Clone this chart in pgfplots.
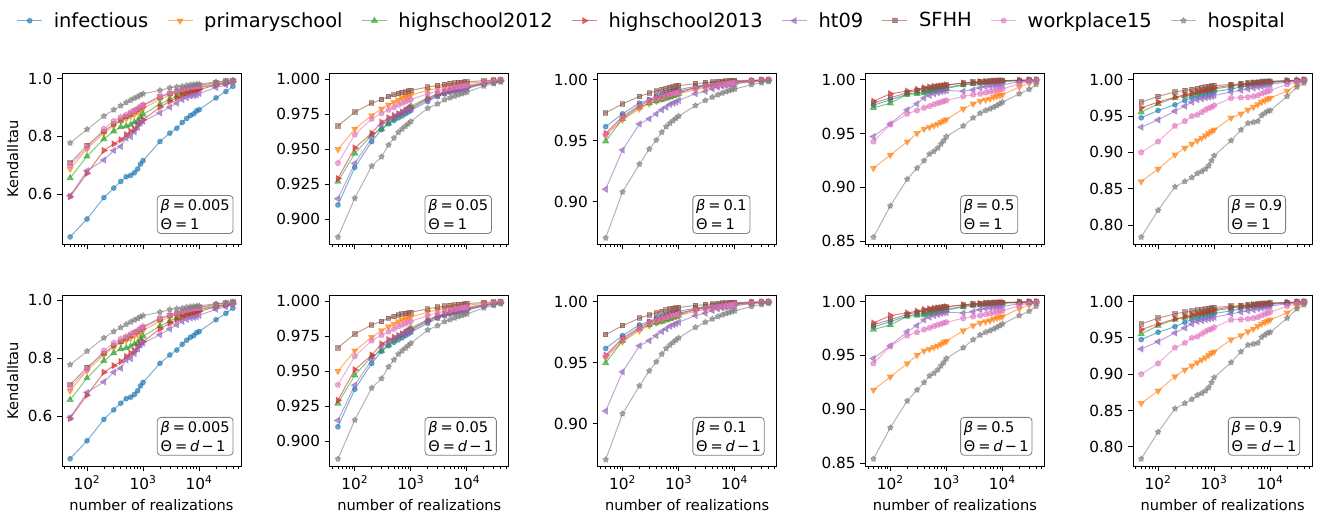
\documentclass[border=0pt]{standalone}
\usepackage{pgfplots}
\pgfplotsset{compat=1.18}
\usepackage{pgfplotstable}
\usepgfplotslibrary{groupplots}
\usepackage{fontspec}
\setmainfont{DejaVu Sans}
\definecolor{tBlue}{HTML}{1F77B4}
\definecolor{tOrange}{HTML}{FF7F0E}
\definecolor{tGreen}{HTML}{2CA02C}
\definecolor{tRed}{HTML}{D62728}
\definecolor{tPurple}{HTML}{9467BD}
\definecolor{tBrown}{HTML}{8C564B}
\definecolor{tPink}{HTML}{E377C2}
\definecolor{tGray}{HTML}{7F7F7F}

\pgfdeclareplotmark{fstar}{%
  \pgfpathmoveto{\pgfpointpolar{90}{1.25\pgfplotmarksize}}%
  \pgfpathlineto{\pgfpointpolar{126}{0.8\pgfplotmarksize}}%
  \pgfpathlineto{\pgfpointpolar{162}{1.25\pgfplotmarksize}}%
  \pgfpathlineto{\pgfpointpolar{198}{0.8\pgfplotmarksize}}%
  \pgfpathlineto{\pgfpointpolar{234}{1.25\pgfplotmarksize}}%
  \pgfpathlineto{\pgfpointpolar{270}{0.8\pgfplotmarksize}}%
  \pgfpathlineto{\pgfpointpolar{306}{1.25\pgfplotmarksize}}%
  \pgfpathlineto{\pgfpointpolar{342}{0.8\pgfplotmarksize}}%
  \pgfpathlineto{\pgfpointpolar{18}{1.25\pgfplotmarksize}}%
  \pgfpathlineto{\pgfpointpolar{54}{0.8\pgfplotmarksize}}%
  \pgfpathclose\pgfusepathqfillstroke}

\pgfplotstableread{
x inf pri h12 h13 ht sf wp ho
50 0.452 0.687 0.656 0.591 0.595 0.708 0.700 0.777
100 0.514 0.757 0.731 0.672 0.681 0.768 0.760 0.824
200 0.588 0.811 0.791 0.751 0.718 0.817 0.826 0.870
300 0.621 0.837 0.818 0.774 0.751 0.843 0.853 0.892
400 0.644 0.853 0.832 0.788 0.765 0.857 0.867 0.906
500 0.660 0.861 0.835 0.806 0.794 0.869 0.875 0.917
600 0.665 0.869 0.840 0.817 0.799 0.878 0.884 0.925
700 0.674 0.876 0.849 0.823 0.816 0.888 0.890 0.932
800 0.687 0.883 0.853 0.838 0.832 0.893 0.896 0.937
900 0.704 0.890 0.867 0.849 0.846 0.899 0.904 0.943
1000 0.716 0.896 0.876 0.857 0.852 0.906 0.910 0.947
2000 0.782 0.928 0.911 0.901 0.881 0.936 0.939 0.959
3000 0.811 0.942 0.928 0.921 0.901 0.948 0.950 0.968
4000 0.828 0.950 0.940 0.933 0.915 0.955 0.957 0.971
5000 0.848 0.955 0.948 0.942 0.927 0.961 0.962 0.973
6000 0.862 0.959 0.954 0.948 0.934 0.965 0.966 0.976
7000 0.872 0.963 0.958 0.952 0.939 0.969 0.969 0.978
8000 0.878 0.965 0.962 0.956 0.941 0.971 0.971 0.979
9000 0.888 0.968 0.965 0.959 0.943 0.973 0.973 0.980
10000 0.892 0.970 0.968 0.962 0.948 0.976 0.974 0.981
20000 0.933 0.980 0.980 0.977 0.969 0.986 0.985 0.988
30000 0.955 0.986 0.986 0.984 0.978 0.991 0.990 0.991
40000 0.973 0.991 0.991 0.990 0.985 0.994 0.992 0.994
}\tA
\pgfplotstableread{
x inf pri h12 h13 ht sf wp ho
50 0.9103 0.9500 0.9270 0.9292 0.9148 0.9667 0.9402 0.8873
100 0.9371 0.9646 0.9471 0.9510 0.9400 0.9766 0.9605 0.9151
200 0.9555 0.9742 0.9603 0.9615 0.9581 0.9830 0.9718 0.9380
300 0.9641 0.9790 0.9646 0.9694 0.9670 0.9856 0.9758 0.9447
400 0.9682 0.9818 0.9687 0.9725 0.9706 0.9878 0.9782 0.9531
500 0.9706 0.9837 0.9718 0.9742 0.9730 0.9890 0.9801 0.9581
600 0.9725 0.9854 0.9742 0.9754 0.9749 0.9900 0.9818 0.9622
700 0.9739 0.9866 0.9758 0.9766 0.9763 0.9907 0.9830 0.9646
800 0.9754 0.9873 0.9778 0.9778 0.9773 0.9911 0.9840 0.9665
900 0.9766 0.9880 0.9792 0.9787 0.9782 0.9916 0.9849 0.9682
1000 0.9778 0.9888 0.9809 0.9797 0.9789 0.9921 0.9856 0.9699
2000 0.9842 0.9921 0.9868 0.9861 0.9854 0.9945 0.9897 0.9794
3000 0.9878 0.9938 0.9897 0.9890 0.9885 0.9957 0.9916 0.9825
4000 0.9897 0.9947 0.9911 0.9907 0.9902 0.9964 0.9928 0.9854
5000 0.9909 0.9955 0.9921 0.9919 0.9914 0.9969 0.9935 0.9868
6000 0.9916 0.9959 0.9928 0.9926 0.9921 0.9974 0.9943 0.9880
7000 0.9923 0.9964 0.9935 0.9933 0.9928 0.9976 0.9947 0.9890
8000 0.9928 0.9966 0.9940 0.9938 0.9933 0.9978 0.9952 0.9897
9000 0.9933 0.9969 0.9945 0.9943 0.9938 0.9980 0.9955 0.9904
10000 0.9935 0.9971 0.9950 0.9945 0.9940 0.9983 0.9957 0.9909
20000 0.9967 0.9983 0.9974 0.9971 0.9969 0.9990 0.9976 0.9952
30000 0.9978 0.9990 0.9986 0.9983 0.9981 0.9995 0.9986 0.9969
40000 0.9988 0.9995 0.9993 0.9990 0.9990 0.9997 0.9993 0.9981
}\tB
\pgfplotstableread{
x inf pri h12 h13 ht sf wp ho
50 0.9615 0.9541 0.9495 0.9560 0.9102 0.9728 0.9550 0.8703
100 0.9720 0.9670 0.9679 0.9698 0.9423 0.9802 0.9687 0.9080
200 0.9808 0.9761 0.9775 0.9788 0.9637 0.9863 0.9780 0.9308
300 0.9835 0.9802 0.9808 0.9830 0.9679 0.9890 0.9824 0.9431
400 0.9865 0.9824 0.9824 0.9852 0.9720 0.9907 0.9843 0.9505
500 0.9879 0.9841 0.9835 0.9865 0.9753 0.9920 0.9857 0.9569
600 0.9893 0.9854 0.9846 0.9876 0.9775 0.9929 0.9868 0.9615
700 0.9901 0.9863 0.9857 0.9887 0.9797 0.9937 0.9879 0.9643
800 0.9907 0.9871 0.9868 0.9893 0.9808 0.9942 0.9885 0.9665
900 0.9912 0.9879 0.9876 0.9898 0.9816 0.9948 0.9890 0.9684
1000 0.9918 0.9885 0.9885 0.9904 0.9830 0.9951 0.9896 0.9701
2000 0.9945 0.9918 0.9940 0.9934 0.9885 0.9967 0.9929 0.9788
3000 0.9959 0.9934 0.9953 0.9951 0.9904 0.9975 0.9945 0.9830
4000 0.9967 0.9945 0.9959 0.9959 0.9926 0.9981 0.9953 0.9857
5000 0.9973 0.9951 0.9964 0.9964 0.9940 0.9984 0.9959 0.9876
6000 0.9975 0.9956 0.9968 0.9970 0.9948 0.9986 0.9964 0.9890
7000 0.9978 0.9962 0.9971 0.9973 0.9953 0.9989 0.9967 0.9901
8000 0.9981 0.9964 0.9974 0.9975 0.9959 0.9989 0.9970 0.9909
9000 0.9981 0.9967 0.9976 0.9978 0.9962 0.9992 0.9973 0.9918
10000 0.9984 0.9970 0.9978 0.9981 0.9964 0.9992 0.9975 0.9923
20000 0.9992 0.9984 0.9989 0.9989 0.9984 0.9995 0.9986 0.9959
30000 0.9995 0.9992 0.9995 0.9995 0.9989 0.9997 0.9992 0.9975
40000 0.9997 0.9995 0.9997 0.9997 0.9995 0.9997 0.9995 0.9986
}\tC
\pgfplotstableread{
x inf pri h12 h13 ht sf wp ho
50 0.9763 0.9178 0.9739 0.9800 0.9471 0.9782 0.9424 0.8537
100 0.9813 0.9300 0.9782 0.9869 0.9589 0.9832 0.9583 0.8827
200 0.9865 0.9424 0.9863 0.9894 0.9720 0.9879 0.9683 0.9076
300 0.9880 0.9502 0.9869 0.9910 0.9776 0.9900 0.9714 0.9178
400 0.9890 0.9542 0.9876 0.9925 0.9829 0.9913 0.9739 0.9247
500 0.9900 0.9558 0.9885 0.9932 0.9854 0.9925 0.9754 0.9309
600 0.9905 0.9574 0.9894 0.9938 0.9869 0.9932 0.9770 0.9334
700 0.9910 0.9589 0.9900 0.9941 0.9879 0.9938 0.9782 0.9365
800 0.9915 0.9605 0.9907 0.9944 0.9888 0.9941 0.9791 0.9402
900 0.9920 0.9620 0.9913 0.9947 0.9894 0.9947 0.9801 0.9434
1000 0.9925 0.9630 0.9919 0.9950 0.9900 0.9950 0.9807 0.9471
2000 0.9955 0.9729 0.9950 0.9969 0.9893 0.9969 0.9844 0.9570
3000 0.9966 0.9776 0.9963 0.9975 0.9905 0.9978 0.9860 0.9645
4000 0.9972 0.9801 0.9969 0.9981 0.9925 0.9981 0.9869 0.9689
5000 0.9976 0.9813 0.9974 0.9984 0.9935 0.9984 0.9879 0.9714
6000 0.9979 0.9823 0.9977 0.9984 0.9941 0.9986 0.9888 0.9729
7000 0.9981 0.9838 0.9979 0.9988 0.9944 0.9988 0.9894 0.9745
8000 0.9983 0.9847 0.9981 0.9988 0.9947 0.9989 0.9900 0.9760
9000 0.9985 0.9854 0.9983 0.9991 0.9950 0.9990 0.9907 0.9776
10000 0.9986 0.9860 0.9984 0.9991 0.9953 0.9991 0.9913 0.9791
20000 0.9992 0.9932 0.9990 0.9994 0.9980 0.9994 0.9963 0.9869
30000 0.9995 0.9969 0.9994 0.9997 0.9988 0.9997 0.9981 0.9910
40000 0.9997 0.9988 0.9997 0.9997 0.9994 0.9997 0.9991 0.9956
}\tD
\pgfplotstableread{
x inf pri h12 h13 ht sf wp ho
50 0.9475 0.8599 0.9553 0.9613 0.9346 0.9691 0.9000 0.7834
100 0.9576 0.8770 0.9668 0.9691 0.9447 0.9770 0.9147 0.8203
200 0.9654 0.8968 0.9751 0.9760 0.9567 0.9830 0.9364 0.8525
300 0.9714 0.9060 0.9779 0.9793 0.9636 0.9853 0.9429 0.8599
400 0.9751 0.9115 0.9797 0.9816 0.9691 0.9866 0.9498 0.8654
500 0.9770 0.9161 0.9816 0.9834 0.9724 0.9880 0.9516 0.8710
600 0.9788 0.9198 0.9829 0.9848 0.9737 0.9889 0.9553 0.8737
700 0.9802 0.9230 0.9843 0.9862 0.9751 0.9899 0.9585 0.8770
800 0.9816 0.9263 0.9853 0.9871 0.9760 0.9903 0.9608 0.8816
900 0.9825 0.9290 0.9862 0.9880 0.9770 0.9912 0.9622 0.8885
1000 0.9834 0.9309 0.9871 0.9889 0.9783 0.9917 0.9645 0.8954
2000 0.9871 0.9475 0.9908 0.9922 0.9830 0.9935 0.9747 0.9161
3000 0.9899 0.9530 0.9926 0.9935 0.9853 0.9945 0.9751 0.9309
4000 0.9917 0.9585 0.9940 0.9945 0.9871 0.9954 0.9760 0.9401
5000 0.9931 0.9622 0.9949 0.9954 0.9885 0.9959 0.9770 0.9415
6000 0.9940 0.9659 0.9954 0.9959 0.9899 0.9963 0.9783 0.9429
7000 0.9945 0.9691 0.9959 0.9963 0.9908 0.9968 0.9806 0.9507
8000 0.9949 0.9714 0.9963 0.9968 0.9917 0.9972 0.9825 0.9539
9000 0.9954 0.9733 0.9965 0.9968 0.9926 0.9972 0.9839 0.9567
10000 0.9959 0.9747 0.9972 0.9972 0.9935 0.9977 0.9853 0.9576
20000 0.9977 0.9843 0.9982 0.9986 0.9968 0.9986 0.9935 0.9770
30000 0.9986 0.9931 0.9991 0.9991 0.9982 0.9991 0.9968 0.9899
40000 0.9991 0.9982 0.9995 0.9995 0.9991 0.9995 0.9982 0.9954
}\tE

\pgfplotsset{
  ser/.style={line width=0.7pt, opacity=0.6, solid},
  s1/.style={ser, color=tBlue, mark=*, mark size=1.7pt},
  s2/.style={ser, color=tOrange, mark=triangle*, mark size=2.4pt, mark options={rotate=180}},
  s3/.style={ser, color=tGreen, mark=triangle*, mark size=2.4pt},
  s4/.style={ser, color=tRed, mark=triangle*, mark size=2.4pt, mark options={rotate=-90}},
  s5/.style={ser, color=tPurple, mark=triangle*, mark size=2.4pt, mark options={rotate=90}},
  s6/.style={ser, color=tBrown, mark=square*, mark size=1.6pt},
  s7/.style={ser, color=tPink, mark=pentagon*, mark size=2.0pt},
  s8/.style={ser, color=tGray, mark=fstar, mark size=1.6pt},
  kt/.style={
    scale only axis, width=128.9pt, height=123pt,
    xmode=log, log basis x=10, xmin=35.8, xmax=55850,
    xtick={100,1000,10000},
    xticklabels={10\textsuperscript{2},10\textsuperscript{3},10\textsuperscript{4}},
    minor xtick={40,50,60,70,80,90,200,300,400,500,600,700,800,900,2000,3000,4000,5000,6000,7000,8000,9000,20000,30000,40000,50000},
    xtick pos=bottom, ytick pos=left, tick align=outside,
    major tick length=3.5pt, minor tick length=2pt,
    every tick/.style={black, line width=0.6pt},
    minor tick style={black, line width=0.45pt},
    axis line style={line width=0.6pt},
    tick label style={font=\fontsize{11}{13}\selectfont},
    label style={font=\fontsize{10.5}{12.6}\selectfont},
    /pgf/number format/assume math mode=true,
    xlabel={number of realizations}, ylabel={Kendalltau},
    clip=false,
  },
  p1/.style={ymin=0.427, ymax=1.018, ytick={0.6,0.8,1.0},
    yticklabel style={/pgf/number format/.cd, fixed, fixed zerofill, precision=1}},
  p2/.style={ymin=0.8823, ymax=1.0043, ytick={0.900,0.925,0.950,0.975,1.000},
    yticklabel style={/pgf/number format/.cd, fixed, fixed zerofill, precision=3}},
  p3/.style={ymin=0.8652, ymax=1.0052, ytick={0.90,0.95,1.00},
    yticklabel style={/pgf/number format/.cd, fixed, fixed zerofill, precision=2}},
  p4/.style={ymin=0.8472, ymax=1.0059, ytick={0.85,0.90,0.95,1.00},
    yticklabel style={/pgf/number format/.cd, fixed, fixed zerofill, precision=2}},
  p5/.style={ymin=0.7737, ymax=1.0087, ytick={0.80,0.85,0.90,0.95,1.00},
    yticklabel style={/pgf/number format/.cd, fixed, fixed zerofill, precision=2}},
}
\newcommand{\allseries}[1]{%
  \addplot[s1] table[x=x,y=inf]{#1};
  \addplot[s2] table[x=x,y=pri]{#1};
  \addplot[s3] table[x=x,y=h12]{#1};
  \addplot[s4] table[x=x,y=h13]{#1};
  \addplot[s5] table[x=x,y=ht]{#1};
  \addplot[s6] table[x=x,y=sf]{#1};
  \addplot[s7] table[x=x,y=wp]{#1};
  \addplot[s8] table[x=x,y=ho]{#1};
}
\newcommand{\eqs}{\hspace{0.2em}=\hspace{0.2em}}
\newcommand{\annot}[2]{%
  \node[draw=black!50, line width=0.6pt, rounded corners=2.5pt, fill=white, anchor=south west,
        align=left, inner xsep=2.4pt, inner ysep=2.8pt, font=\fontsize{10.5}{13.5}\selectfont]
    at (rel axis cs:0.53,0.06) {{\itshape β}\eqs#1\\#2};}
\newcommand{\thone}{Θ\eqs1}
\newcommand{\thd}{Θ\eqs{\itshape d}\hspace{0.15em}−\hspace{0.15em}1}

\begin{document}
\begin{tikzpicture}
\begin{groupplot}[
  group style={group size=5 by 2, horizontal sep=63.9pt, vertical sep=36.7pt,
    xticklabels at=edge bottom, xlabels at=edge bottom, ylabels at=edge left},
  kt]
\nextgroupplot[p1,
  legend columns=8,
  legend style={at={(3.296,1.308)}, anchor=center, draw=none, fill=none,
    font=\fontsize{14}{16}\selectfont,
    /tikz/every odd column/.append style={column sep=6pt},
    /tikz/every even column/.append style={column sep=11.5pt}},
  legend image code/.code={\draw[mark repeat=2,mark phase=2] plot coordinates {(0pt,0pt) (9pt,0pt) (18pt,0pt)};},
  legend entries={infectious,primaryschool,highschool2012,highschool2013,ht09,SFHH,workplace15,hospital}]
\allseries{\tA}
\annot{0.005}{\thone}
\nextgroupplot[p2]
\allseries{\tB}
\annot{0.05}{\thone}
\nextgroupplot[p3]
\allseries{\tC}
\annot{0.1}{\thone}
\nextgroupplot[p4]
\allseries{\tD}
\annot{0.5}{\thone}
\nextgroupplot[p5]
\allseries{\tE}
\annot{0.9}{\thone}
\nextgroupplot[p1]
\allseries{\tA}
\annot{0.005}{\thd}
\nextgroupplot[p2]
\allseries{\tB}
\annot{0.05}{\thd}
\nextgroupplot[p3]
\allseries{\tC}
\annot{0.1}{\thd}
\nextgroupplot[p4]
\allseries{\tD}
\annot{0.5}{\thd}
\nextgroupplot[p5]
\allseries{\tE}
\annot{0.9}{\thd}
\end{groupplot}
\pgfresetboundingbox
\path[use as bounding box] ([shift={(-44.64pt,52.8pt)}]group c1r1.north west) rectangle ([shift={(906.5pt,-318.7pt)}]group c1r1.north west);
\end{tikzpicture}
\end{document}
